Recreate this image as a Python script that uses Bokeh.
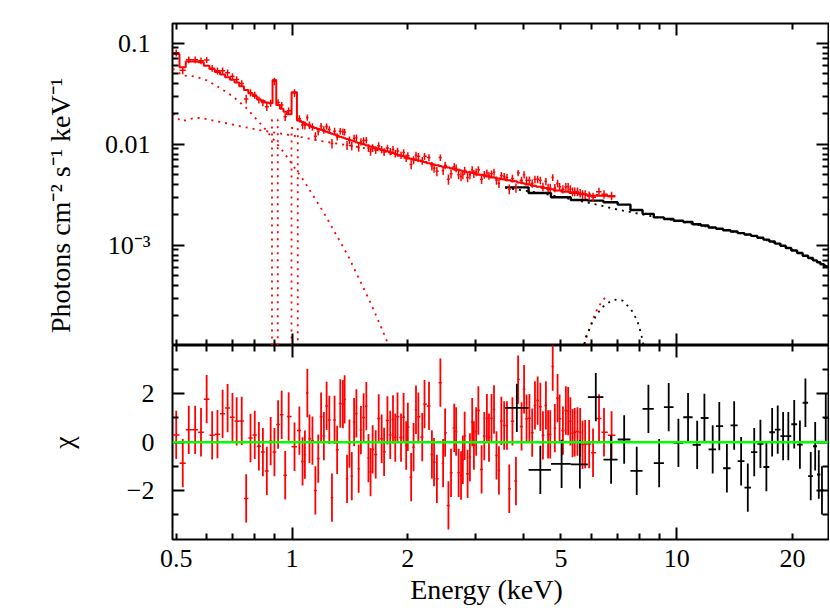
import numpy as np
from bokeh.plotting import figure
from bokeh.layouts import column
from bokeh.models import (Range1d, LogAxis, LinearAxis, FixedTicker, Span,
                          CustomJSTickFormatter, ColumnDataSource)
from bokeh.embed import file_html
from bokeh.resources import INLINE

# ---------------- data ----------------
red_e = [
    0.50, 0.52, 0.539, 0.56, 0.58, 0.60, 0.62, 0.64, 0.66, 0.68,
    0.70, 0.718, 0.74, 0.76, 0.78, 0.80, 0.82, 0.84, 0.86, 0.88,
    0.90, 0.92, 0.94, 0.96, 0.98, 1.015, 1.045, 1.065, 1.08, 1.096,
    1.11, 1.13, 1.15, 1.17, 1.19, 1.21, 1.23, 1.25, 1.27, 1.29,
    1.31, 1.335, 1.356, 1.37, 1.39, 1.41, 1.43, 1.45, 1.47, 1.49,
    1.51, 1.535, 1.56, 1.58, 1.60, 1.62, 1.65, 1.68, 1.71, 1.735,
    1.77, 1.80, 1.83, 1.855, 1.88, 1.92, 1.95, 1.98, 2.00, 2.04,
    2.07, 2.10, 2.13, 2.18, 2.21, 2.27, 2.31, 2.34, 2.38, 2.43,
    2.47, 2.50, 2.55, 2.59, 2.64, 2.67, 2.71, 2.75, 2.78, 2.81,
    2.86, 2.90, 2.94, 2.97, 3.01, 3.05, 3.11, 3.16, 3.21, 3.25,
    3.30, 3.35, 3.40, 3.45, 3.50, 3.56, 3.62, 3.67, 3.74, 3.82,
    3.87, 3.95, 4.01, 4.07, 4.14, 4.21, 4.28, 4.35, 4.42, 4.49,
    4.57, 4.63, 4.69, 4.76, 4.82, 4.90, 4.96, 5.06, 5.15, 5.22,
    5.29, 5.36, 5.43, 5.52, 5.61, 5.69, 5.78, 5.92, 6.06, 6.28,
    6.47, 6.77]

red_model = [
    0.0785, 0.058, 0.0659, 0.0659, 0.0650, 0.0600, 0.0555, 0.052, 0.049, 0.046,
    0.0435, 0.041, 0.0375, 0.0345, 0.032, 0.030, 0.028, 0.0268, 0.026, 0.0255,
    0.0434, 0.0245, 0.0225, 0.021, 0.0198, 0.0327, 0.0172, 0.0166, 0.0161, 0.0157,
    0.0153, 0.0148, 0.0145, 0.0142, 0.0139, 0.0136, 0.0133, 0.0130, 0.0127, 0.0125,
    0.0122, 0.0119, 0.0117, 0.0115, 0.0113, 0.0111, 0.0109, 0.0107, 0.0105, 0.0103,
    0.0102, 0.0100, 0.0098, 0.0097, 0.0095, 0.0094, 0.0092, 0.0090, 0.0088, 0.0087,
    0.0085, 0.0083, 0.0082, 0.0080, 0.0079, 0.0077, 0.0076, 0.0074, 0.0073, 0.0072,
    0.0071, 0.0070, 0.0069, 0.0068, 0.0067, 0.0065, 0.0064, 0.0063, 0.0062, 0.0061,
    0.0060, 0.0060, 0.0059, 0.0058, 0.0057, 0.0056, 0.0056, 0.0055, 0.0054, 0.0054,
    0.0053, 0.0053, 0.0052, 0.0052, 0.0051, 0.0050, 0.0050, 0.0049, 0.0048, 0.0048,
    0.0047, 0.0047, 0.0046, 0.0046, 0.0045, 0.0045, 0.0044, 0.0044, 0.0043, 0.0043,
    0.0042, 0.0042, 0.0041, 0.0040, 0.0040, 0.0039, 0.0039, 0.0038, 0.0038, 0.0037,
    0.0037, 0.0036, 0.0036, 0.0036, 0.0035, 0.0035, 0.0035, 0.0034, 0.0034, 0.0034,
    0.0033, 0.0033, 0.0033, 0.0033, 0.0032, 0.0032, 0.0032, 0.0031, 0.0031, 0.0031,
    0.0031, 0.00305]

red_flux = [
    0.0804, 0.0540, 0.0686, 0.0686, 0.0671, 0.0685, 0.0567, 0.0534, 0.0536, 0.0512,
    0.0471, 0.0438, 0.0401, 0.0281, 0.0324, 0.0307, 0.0276, 0.0259, 0.0235, 0.0256,
    0.0420, 0.0259, 0.0245, 0.0187, 0.0215, 0.0322, 0.0179, 0.0155, 0.0154, 0.0184,
    0.0155, 0.0149, 0.0120, 0.0134, 0.0151, 0.0139, 0.0150, 0.0140, 0.0102, 0.0135,
    0.0119, 0.0135, 0.0133, 0.0132, 0.0098, 0.0110, 0.0096, 0.0115, 0.0116, 0.0093,
    0.0106, 0.0109, 0.0110, 0.0092, 0.0085, 0.0092, 0.0088, 0.0097, 0.0089, 0.0084,
    0.0092, 0.0085, 0.0089, 0.0081, 0.0086, 0.0078, 0.0083, 0.0073, 0.0077, 0.0063,
    0.0070, 0.0078, 0.0076, 0.0069, 0.0076, 0.0074, 0.0061, 0.0058, 0.0054, 0.0074,
    0.0055, 0.0062, 0.0045, 0.0051, 0.0060, 0.0058, 0.0050, 0.0048, 0.0050, 0.0055,
    0.0047, 0.0050, 0.0056, 0.0051, 0.0053, 0.0056, 0.0045, 0.0050, 0.0052, 0.0049,
    0.0051, 0.0053, 0.0044, 0.0041, 0.0049, 0.0048, 0.0047, 0.0036, 0.0046, 0.0037,
    0.0052, 0.0044, 0.0050, 0.0044, 0.0044, 0.0041, 0.0045, 0.0045, 0.0044, 0.0038,
    0.0043, 0.0037, 0.0037, 0.0047, 0.0037, 0.0041, 0.0038, 0.0036, 0.0038, 0.0038,
    0.0036, 0.0034, 0.0034, 0.0034, 0.0033, 0.0032, 0.0032, 0.0031, 0.0030, 0.0034,
    0.0032, 0.0031]

red_ferr = [
    0.0063, 0.0046, 0.0053, 0.0053, 0.0052, 0.0048, 0.0044, 0.0042, 0.0039, 0.0037,
    0.0035, 0.0033, 0.0030, 0.0028, 0.0026, 0.0024, 0.0022, 0.0021, 0.0021, 0.0020,
    0.0035, 0.0020, 0.0018, 0.0017, 0.0016, 0.0028, 0.0015, 0.0014, 0.0014, 0.0013,
    0.0013, 0.0013, 0.0012, 0.0012, 0.0012, 0.0012, 0.0011, 0.0011, 0.0011, 0.0011,
    0.0010, 0.0010, 0.0010, 0.0010, 0.0010, 0.00094, 0.00093, 0.00091, 0.00089, 0.00088,
    0.00087, 0.00085, 0.00083, 0.00082, 0.00081, 0.00080, 0.00078, 0.00077, 0.00075, 0.00074,
    0.00072, 0.00071, 0.00070, 0.00068, 0.00067, 0.00065, 0.00065, 0.00063, 0.00066, 0.00065,
    0.00064, 0.00063, 0.00062, 0.00061, 0.00060, 0.00059, 0.00058, 0.00057, 0.00056, 0.00055,
    0.00054, 0.00054, 0.00053, 0.00052, 0.00051, 0.00050, 0.00050, 0.00050, 0.00049, 0.00049,
    0.00048, 0.00048, 0.00047, 0.00047, 0.00046, 0.00045, 0.00045, 0.00044, 0.00043, 0.00043,
    0.00042, 0.00042, 0.00041, 0.00041, 0.00041, 0.00041, 0.00040, 0.00040, 0.00039, 0.00039,
    0.00038, 0.00038, 0.00041, 0.00040, 0.00040, 0.00039, 0.00039, 0.00038, 0.00038, 0.00037,
    0.00037, 0.00036, 0.00036, 0.00036, 0.00035, 0.00035, 0.00035, 0.00034, 0.00034, 0.00034,
    0.00033, 0.00033, 0.00033, 0.00033, 0.00032, 0.00032, 0.00032, 0.00031, 0.00031, 0.00031,
    0.00031, 0.00030]

red_chi = [
    0.30, -0.87, 0.51, 0.51, 0.41, 1.78, 0.28, 0.33, 1.17, 1.41,
    1.03, 0.86, 0.88, -2.33, 0.17, 0.30, -0.17, -0.41, -1.19, 0.04,
    -0.41, 0.73, 1.13, -1.37, 1.06, -0.19, 0.48, -0.80, -0.52, 2.03,
    0.14, 0.06, -2.00, -0.68, 1.05, 0.25, 1.50, 0.92, -2.30, 0.92,
    -0.32, 1.60, 1.57, 1.77, -1.52, -0.06, -1.41, 0.83, 1.19, -1.10,
    0.50, 1.02, 1.49, -0.66, -1.24, -0.30, -0.51, 0.98, 0.14, -0.40,
    0.90, 0.30, 0.94, 0.19, 1.05, 0.19, 1.03, -0.14, 0.63, -1.45,
    -0.21, 1.34, 1.05, 0.21, 1.57, 1.50, -0.51, -0.83, -1.52, 2.46,
    -0.87, 0.39, -2.62, -1.27, 0.59, 0.44, -1.27, -1.38, -0.73, 0.26,
    -1.31, -0.63, 0.83, -0.14, 0.44, 1.31, -1.13, 0.25, 0.99, 0.19,
    0.99, 1.35, -0.55, -1.17, 0.88, 0.69, 0.69, -1.93, 0.86, -1.61,
    2.59, 0.65, 2.19, 0.97, 0.99, 0.39, 1.52, 1.72, 1.46, 0.28,
    1.52, 0.32, 0.32, 3.13, 0.58, 1.82, 0.97, 0.48, 1.31, 1.28,
    0.86, 0.37, 0.41, 0.44, 0.41, -0.11, -0.08, -0.08, -0.44, 0.98,
    0.41, 0.28]

black_e = [
    3.84, 4.42, 5.02, 5.60, 6.16, 6.75, 7.30, 7.87, 8.44, 9.00,
    9.53, 10.1, 10.7, 11.3, 11.8, 12.4, 12.9, 13.5, 14.1, 14.7,
    15.3, 15.9, 16.5, 17.1, 17.7, 18.3, 18.9, 19.5, 20.2, 20.9,
    21.6, 22.3, 22.9, 23.4, 23.85, 24.4]
black_model = [
    0.00375, 0.0033, 0.00299, 0.00281, 0.00277, 0.00267, 0.00253, 0.00224, 0.00205, 0.00189,
    0.00182, 0.00175, 0.00170, 0.00162, 0.00157, 0.00150, 0.00146, 0.00141, 0.00137, 0.00132,
    0.00128, 0.00124, 0.00119, 0.00114, 0.00109, 0.00104, 0.00099, 0.00094, 0.00089, 0.00084,
    0.00079, 0.00075, 0.00071, 0.00068, 0.00065, 0.00062]
black_chi = [
    1.42, -1.15, -0.90, -0.92, 1.86, -0.72, 0.11, -1.19, 1.38, -0.87,
    1.45, -0.03, 1.03, -0.11, 1.00, -0.30, 0.66, -1.08, 0.69, -0.79,
    -1.88, -0.41, -0.07, -1.03, 0.41, 0.52, 0.25, 0.25, 0.74, -0.10,
    1.63, -1.41, -0.17, -1.34, -2.00, 1.00]

# model components (dotted)
red_therm_e = [0.49, 0.52, 0.56, 0.60, 0.65, 0.70, 0.76, 0.85, 0.95, 1.08, 1.21, 1.40, 1.60, 1.72, 1.80]
red_therm_f = [0.056, 0.048, 0.047, 0.043, 0.036, 0.030, 0.023, 0.0143, 0.0084, 0.0042, 0.0021,
               0.00078, 0.00027, 0.000143, 0.000093]
red_pl_e = [0.49, 0.515, 0.553, 0.58, 0.61, 0.673, 0.74, 0.818, 0.944, 1.085, 1.20, 1.40,
            1.70, 2.00, 2.50, 3.00, 3.70, 4.50, 5.50, 6.92]
red_pl_f = [0.0200, 0.0169, 0.0181, 0.0183, 0.0175, 0.0162, 0.0150, 0.0139, 0.0127, 0.01156,
            0.0107, 0.0098, 0.0086, 0.0072, 0.0060, 0.0051, 0.0044, 0.0037, 0.0033, 0.00303]
red_line_lo = [0.887, 0.997]
red_line_hi = [0.918, 1.035]
red_line_peak = [0.0175, 0.0145]
red_line_floor = 1e-6
red_fe_e = [5.70, 5.85, 5.97, 6.10, 6.25, 6.42, 6.62]
red_fe_f = [0.9e-4, 1.3e-4, 1.6e-4, 2.0e-4, 2.45e-4, 2.85e-4, 3.23e-4]
black_cont_e = [3.58, 4.4, 5.0, 5.6, 6.2, 6.87, 7.6, 8.1, 9.0, 10.0, 12.0, 14.0, 16.0,
                18.0, 20.0, 22.0, 24.7]
black_cont_f = [0.00372, 0.0033, 0.0030, 0.00275, 0.00253, 0.0023, 0.00213, 0.00203, 0.00188,
                0.00175, 0.00153, 0.00137, 0.00122, 0.00106, 0.0009, 0.00076, 0.00062]
black_fe_e = [5.70, 5.80, 5.91, 6.03, 6.21, 6.39, 6.67, 6.87, 7.23, 7.60, 7.90, 8.08, 8.25]
black_fe_f = [0.9e-4, 1.23e-4, 1.43e-4, 1.73e-4, 2.09e-4, 2.43e-4, 2.73e-4, 2.90e-4, 2.84e-4,
              2.34e-4, 1.79e-4, 1.33e-4, 0.9e-4]

# axes / ticks
x_start, x_end = 0.489, 24.8
y_start, y_end = 1.02e-4, 0.157
chi_start, chi_end = -4.03, 4.0
x_major_ticks = [1, 10]
x_minor_ticks = [0.5, 0.6, 0.7, 0.8, 0.9, 2, 3, 4, 5, 6, 7, 8, 9, 20]
x_label_ticks = [0.5, 1, 2, 5, 10, 20]
x_tick_labels = ["0.5", "1", "2", "5", "10", "20"]
y_major_ticks = [1e-3, 1e-2, 1e-1]
y_tick_labels = ["10\u207b\u00b3", "0.01", "0.1"]
y_minor_ticks = [m * 10.0 ** k for k in (-4, -3, -2) for m in range(2, 10)]
chi_major_ticks = [-2, 0, 2]
chi_tick_labels = ["\u22122", "0", "2"]
chi_minor_ticks = [-3, -1, 1, 3]

FONT = "Liberation Serif"
RED = "#ff0000"
BLACK = "#000000"
GREEN = "#00ff00"
DOT = "2 5"


def bin_edges(c):
    c = np.asarray(c, float)
    mid = np.sqrt(c[:-1] * c[1:])
    lo = np.concatenate([[c[0] ** 2 / mid[0]], mid])
    hi = np.concatenate([mid, [c[-1] ** 2 / mid[-1]]])
    return lo, hi


def step_xy(lo, hi, v):
    xs = np.column_stack([lo, hi]).ravel()
    ys = np.repeat(np.asarray(v, float), 2)
    return xs, ys


def make_axis(cls, major, minor, labels=None, standoff=0, axis_label=None,
              label_standoff=0, ticks=True):
    ax = cls(ticker=FixedTicker(ticks=major, minor_ticks=minor))
    ax.axis_line_color = None
    ax.major_tick_out = 0
    ax.minor_tick_out = 0
    ax.major_tick_in = 12 if ticks else 0
    ax.minor_tick_in = 6 if ticks else 0
    ax.major_tick_line_color = BLACK
    ax.minor_tick_line_color = BLACK
    ax.major_tick_line_width = 2
    ax.minor_tick_line_width = 2
    if labels is None:
        ax.formatter = CustomJSTickFormatter(code="return ''")
        ax.major_label_text_font_size = "0px"
        ax.major_label_standoff = 0
    else:
        ax.major_label_overrides = {t: s for t, s in zip(major, labels)}
        ax.major_label_text_font = FONT
        ax.major_label_text_font_size = "26px"
        ax.major_label_text_color = BLACK
        ax.major_label_standoff = standoff
    if axis_label is not None:
        ax.axis_label = axis_label
        ax.axis_label_text_font = FONT
        ax.axis_label_text_font_size = "28px"
        ax.axis_label_text_font_style = "normal"
        ax.axis_label_text_color = BLACK
        ax.axis_label_standoff = label_standoff
    return ax


xr = Range1d(x_start, x_end)

# ---------------- top panel ----------------
top = figure(width=829, height=345, x_axis_type="log", y_axis_type="log",
             x_range=xr, y_range=Range1d(y_start, y_end),
             x_axis_location=None, y_axis_location=None,
             output_backend="svg", toolbar_location=None,
             min_border_left=172, min_border_right=1, min_border_top=23, min_border_bottom=0)
top.xgrid.visible = False
top.ygrid.visible = False
top.outline_line_color = BLACK
top.outline_line_width = 2
top.background_fill_color = "white"
top.border_fill_color = "white"

top.add_layout(make_axis(LogAxis, y_major_ticks, y_minor_ticks, labels=y_tick_labels, standoff=22,
                         axis_label="Photons cm\u207b\u00b2 s\u207b\u00b9 keV\u207b\u00b9" + "\u00a0" * 6,
                         label_standoff=26), "left")
top.add_layout(make_axis(LogAxis, y_major_ticks, y_minor_ticks), "right")
top.add_layout(make_axis(LogAxis, x_major_ticks, x_minor_ticks), "below")
top.add_layout(make_axis(LogAxis, x_major_ticks, x_minor_ticks), "above")

r_lo, r_hi = bin_edges(red_e)
b_lo, b_hi = bin_edges(black_e)

# dotted model components
top.line(red_therm_e, red_therm_f, line_color=RED, line_width=1.8, line_dash=DOT)
top.line(red_pl_e, red_pl_f, line_color=RED, line_width=1.8, line_dash=DOT)
for lo, hi, pk in zip(red_line_lo, red_line_hi, red_line_peak):
    top.line([lo, lo, hi, hi], [red_line_floor, pk, pk, red_line_floor],
             line_color=RED, line_width=1.8, line_dash=DOT)
top.line(red_fe_e, red_fe_f, line_color=RED, line_width=1.8, line_dash=DOT)
top.line(black_cont_e, black_cont_f, line_color=BLACK, line_width=1.8, line_dash=DOT)
top.line(black_fe_e, black_fe_f, line_color=BLACK, line_width=1.8, line_dash=DOT)

# models (histogram steps)
bx, by = step_xy(b_lo, b_hi, black_model)
top.line(bx, by, line_color=BLACK, line_width=2.4)
rx, ry = step_xy(r_lo, r_hi, red_model)
top.line(rx, ry, line_color=RED, line_width=2)

# red data crosses
rf = np.asarray(red_flux)
re_ = np.asarray(red_ferr)
src = ColumnDataSource(dict(e=red_e, lo=r_lo, hi=r_hi, f=rf, fl=rf - re_, fh=rf + re_))
top.segment(x0="lo", y0="f", x1="hi", y1="f", source=src, line_color=RED, line_width=1.5)
top.segment(x0="e", y0="fl", x1="e", y1="fh", source=src, line_color=RED, line_width=1.5)

# ---------------- bottom panel ----------------
bot = figure(width=829, height=262, x_axis_type="log",
             x_range=xr, y_range=Range1d(chi_start, chi_end),
             x_axis_location=None, y_axis_location=None,
             output_backend="svg", toolbar_location=None,
             min_border_left=172, min_border_right=1, min_border_top=0, min_border_bottom=68)
bot.xgrid.visible = False
bot.ygrid.visible = False
bot.outline_line_color = BLACK
bot.outline_line_width = 2
bot.background_fill_color = "white"
bot.border_fill_color = "white"

bot.add_layout(make_axis(LinearAxis, chi_major_ticks, chi_minor_ticks, labels=chi_tick_labels,
                         standoff=18, axis_label="\u03c7", label_standoff=45), "left")
bot.add_layout(make_axis(LinearAxis, chi_major_ticks, chi_minor_ticks), "right")
bot.add_layout(make_axis(LogAxis, x_major_ticks, x_minor_ticks), "above")
bot.add_layout(make_axis(LogAxis, x_major_ticks, x_minor_ticks), "below")
bot.add_layout(make_axis(LogAxis, x_label_ticks, [], labels=x_tick_labels, standoff=10,
                         axis_label="Energy (keV)" + "\u00a0" * 4, label_standoff=4,
                         ticks=False), "below")

rc = np.asarray(red_chi)
bc = np.asarray(black_chi)
bot.segment(x0=r_lo, y0=rc, x1=r_hi, y1=rc, line_color=RED, line_width=1.5)
bot.segment(x0=red_e, y0=rc - 1, x1=red_e, y1=rc + 1, line_color=RED, line_width=1.8)
bot.segment(x0=b_lo, y0=bc, x1=b_hi, y1=bc, line_color=BLACK, line_width=1.8)
bot.segment(x0=black_e, y0=bc - 1, x1=black_e, y1=bc + 1, line_color=BLACK, line_width=1.8)
bot.add_layout(Span(location=0, dimension="width", line_color=GREEN, line_width=2.5))

layout = column(top, bot, spacing=0)
open("out.html", "w").write(file_html(layout, INLINE))
